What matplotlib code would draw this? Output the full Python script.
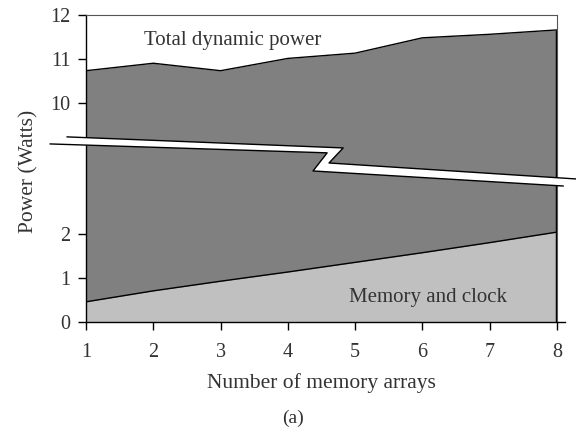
import matplotlib.pyplot as plt
from matplotlib.patches import Polygon

plt.rcParams['font.family'] = ['Liberation Serif', 'DejaVu Serif']

arrays = [1, 2, 3, 4, 5, 6, 7, 8]
total_power = [10.73, 10.90, 10.73, 11.01, 11.13, 11.48, 11.56, 11.66]
mem_clock = [0.46, 0.71, 0.93, 1.14, 1.36, 1.58, 1.81, 2.05]

# broken axis: values from 10 W upward are shifted down by this much
gap = 5
yticks = [0, 1, 2, 10, 11, 12]

dark = '#808080'
light = '#c0c0c0'
txt = '#333333'

total_shown = [v - gap for v in total_power]

fig = plt.figure(figsize=(5.76, 4.33), dpi=100)
ax = fig.add_axes([86 / 576, 111 / 433, 471 / 576, 307 / 433])

ax.fill_between(arrays, 0, total_shown, color=dark, lw=0)
ax.fill_between(arrays, 0, mem_clock, color=light, lw=0)
ax.plot(arrays, total_shown, color='black', lw=1)
ax.plot(arrays, mem_clock, color='black', lw=1)
ax.plot([arrays[-1], arrays[-1]], [0, total_shown[-1]], color='black', lw=2.5,
        solid_capstyle='butt')

ax.set_xlim(1, 8)
ax.set_ylim(0, 12 - gap)
ax.set_xticks(arrays)
ax.set_yticks([t if t < 5 else t - gap for t in yticks])
ax.set_yticklabels([str(t) for t in yticks])
ax.tick_params(direction='out', length=6, width=1, colors='black',
               labelcolor=txt, labelsize=14.5)
ax.tick_params(axis='x', pad=9)
ax.tick_params(axis='y', pad=5)

for s in ['top', 'right']:
    ax.spines[s].set_linewidth(0.8)
    ax.spines[s].set_color('#555555')
for s in ['left', 'bottom']:
    ax.spines[s].set_linewidth(1)
# bottom axis runs a little past the last array
ax.plot([8, 8.12], [0, 0], color='black', lw=1, clip_on=False)

# zig-zag break band across the plot
upper = [(-0.040, 0.603), (0.546, 0.567), (0.516, 0.518), (1.040, 0.466)]
lower = [(-0.076, 0.580), (0.512, 0.551), (0.482, 0.492), (1.013, 0.443)]
band = Polygon(upper + lower[::-1], closed=True, facecolor='white',
               edgecolor='none', transform=ax.transAxes, clip_on=False, zorder=5)
ax.add_patch(band)
for edge in (upper, lower):
    xs, ys = zip(*edge)
    ax.plot(xs, ys, color='black', lw=1, transform=ax.transAxes,
            clip_on=False, zorder=6)

ax.text(3.18, 11.41 - gap, 'Total dynamic power', ha='center', va='center',
        fontsize=15, color=txt)
ax.text(6.08, 0.57, 'Memory and clock', ha='center', va='center',
        fontsize=15, color=txt)

ax.set_xlabel('Number of memory arrays', fontsize=15.5, color=txt, labelpad=8)
ax.set_ylabel('Power (Watts)', fontsize=15.5, color=txt)
ax.yaxis.set_label_coords(-0.10, 0.49)
fig.text(293 / 576, 1 - 418 / 433, '(a)', ha='center', va='center',
         fontsize=14, color=txt)

fig.savefig('out.png', dpi=100)
